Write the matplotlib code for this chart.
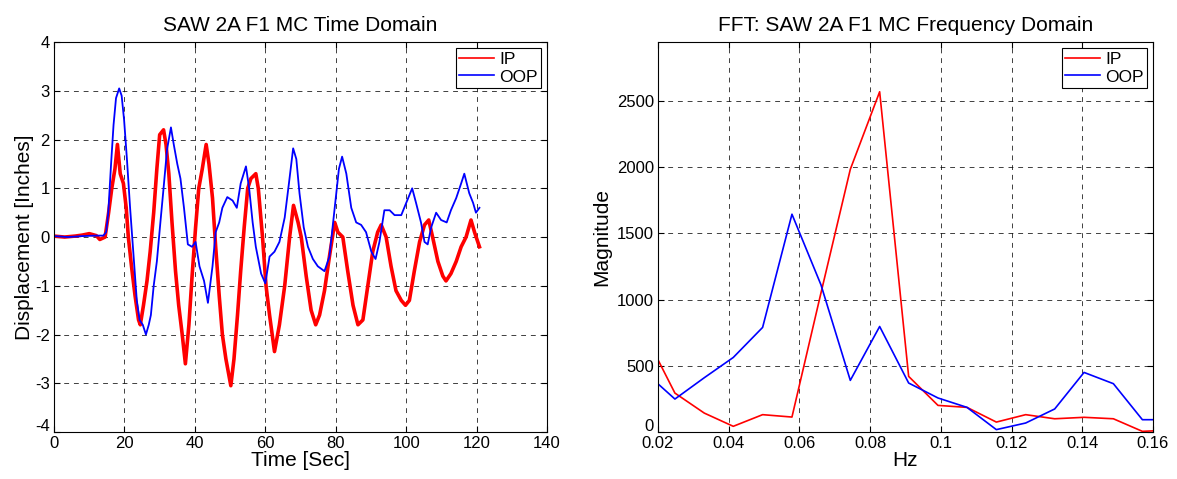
import numpy as np
import matplotlib
matplotlib.use('Agg')
import matplotlib.pyplot as plt
import matplotlib.transforms as mtransforms
from matplotlib.ticker import FormatStrFormatter

plt.rcParams['font.family'] = ['Liberation Sans', 'DejaVu Sans']
plt.rcParams['axes.unicode_minus'] = False

# time domain
t_ip = [0, 3, 6, 8, 10, 12, 13, 14.5, 15.5, 16.4, 17.3, 18, 18.8, 19.7, 20.5, 21.1, 22, 23,
        24, 24.5, 25.4, 26.4, 27.3, 28.3, 29.2, 30, 31.1, 31.8, 32.6, 33.5, 34.5, 35.4, 36.4,
        37.3, 38.3, 39.2, 40.2, 41.1, 42.1, 43.2, 44, 45, 45.9, 46.9, 47.8, 48.8, 50.2, 51.1,
        52.1, 53, 54, 55, 55.9, 57.3, 58, 59.2, 60.2, 61.2, 62.6, 64, 65.5, 66.9, 68, 69.3,
        70.2, 71.6, 73, 74.3, 75.4, 76.8, 78.2, 79.7, 80.6, 82, 83.4, 84.9, 86.3, 87.7, 89.1,
        90.5, 91.9, 92.9, 94.3, 95.7, 97.1, 98.6, 99.8, 100.9, 102.3, 103.8, 105.2, 106.4,
        107.5, 109, 110.4, 111.3, 112.7, 114.2, 115.6, 117, 118.4, 119.4, 120.8]
ip = [0.02, 0.0, 0.02, 0.04, 0.07, 0.03, -0.05, 0.0, 0.5, 1.0, 1.4, 1.9, 1.3, 1.1, 0.6, 0.0,
      -0.6, -1.2, -1.7, -1.8, -1.4, -0.9, -0.3, 0.5, 1.4, 2.1, 2.2, 1.9, 1.3, 0.3, -0.7, -1.4,
      -2.0, -2.6, -1.8, -0.8, 0.2, 1.0, 1.4, 1.9, 1.5, 0.8, -0.2, -1.2, -2.0, -2.5, -3.05, -2.5,
      -1.6, -0.7, 0.2, 1.0, 1.2, 1.3, 1.0, 0.0, -1.0, -1.6, -2.35, -1.8, -1.0, 0.0, 0.65, 0.3,
      0.0, -0.8, -1.5, -1.8, -1.6, -1.1, -0.4, 0.3, 0.1, 0.0, -0.7, -1.4, -1.8, -1.7, -1.0,
      -0.3, 0.1, 0.25, 0.0, -0.6, -1.1, -1.3, -1.4, -1.3, -0.7, -0.1, 0.25, 0.35, 0.0, -0.5,
      -0.8, -0.9, -0.75, -0.5, -0.2, 0.0, 0.35, 0.1, -0.2]

t_oop = [0, 4, 8, 12, 14, 14.8, 15.4, 16.2, 16.9, 17.6, 18.5, 19.2, 19.9, 20.7, 21.6, 22.6,
         23.5, 24.3, 25.2, 26.1, 26.9, 27.5, 28.3, 29.2, 30.2, 31.1, 32.1, 33.2, 34, 35, 35.9,
         36.9, 38, 39.2, 40.2, 41.3, 42.6, 43.7, 45, 45.9, 46.9, 47.8, 49.2, 50.7, 51.9, 53,
         54.5, 55.4, 56.4, 57.3, 58.8, 60, 61.2, 62.6, 64, 65.5, 66.7, 67.9, 68.8, 69.7, 70.9,
         72.1, 73.5, 74.9, 76.8, 78.2, 79.7, 80.9, 81.8, 83, 84.4, 85.8, 87.2, 88.6, 90.1,
         91.3, 92.4, 93.8, 95.3, 96.7, 98.6, 100, 101.7, 102.8, 104.2, 105.2, 106.1, 107.1,
         108.5, 109.9, 111.5, 112.7, 114.2, 115.6, 116.5, 117.9, 119, 119.8, 120.8]
oop = [0.02, 0.0, 0.02, 0.03, 0.03, 0.1, 0.5, 1.5, 2.3, 2.85, 3.05, 2.9, 2.4, 1.6, 0.6, -0.4,
       -1.3, -1.7, -1.8, -2.0, -1.8, -1.6, -1.0, -0.5, 0.3, 1.0, 1.8, 2.25, 1.9, 1.5, 1.2, 0.6,
       -0.15, -0.2, -0.1, -0.6, -0.9, -1.35, -0.6, 0.1, 0.3, 0.6, 0.82, 0.75, 0.6, 1.1, 1.45,
       1.0, 0.3, -0.2, -0.75, -0.95, -0.4, -0.3, -0.1, 0.4, 1.1, 1.82, 1.6, 0.9, 0.2, -0.2,
       -0.45, -0.6, -0.7, -0.4, 0.6, 1.4, 1.65, 1.3, 0.6, 0.3, 0.25, 0.1, -0.3, -0.45, -0.1,
       0.55, 0.55, 0.45, 0.45, 0.7, 1.0, 0.7, 0.3, -0.1, -0.15, 0.2, 0.5, 0.35, 0.3, 0.55, 0.8,
       1.1, 1.3, 0.9, 0.7, 0.5, 0.6]

# frequency domain
freq = [0.0165, 0.0248, 0.0331, 0.0413, 0.0496, 0.0579, 0.0661, 0.0744, 0.0827, 0.0909,
        0.0992, 0.1074, 0.1157, 0.124, 0.1322, 0.1405, 0.1488, 0.157, 0.1653]
mag_ip = [730, 294, 143, 43, 131, 113, 1050, 1984, 2570, 420, 201, 186, 75, 131, 100, 111,
          100, 5, 15]
mag_oop = [448, 249, 410, 563, 790, 1645, 1112, 390, 797, 370, 257, 186, 18, 68, 174, 450,
           365, 93, 93]

fig = plt.figure(figsize=(11.77, 4.79), dpi=100)
ax1 = fig.add_axes([0.0459, 0.0981, 0.4189, 0.814])
ax2 = fig.add_axes([0.559, 0.0981, 0.4206, 0.814])

grid_kw = dict(color='black', linestyle=(0, (5, 5)), linewidth=0.7, alpha=0.75)

ax1.plot(t_ip, ip, color='red', linewidth=2.6, label='IP')
ax1.plot(t_oop, oop, color='blue', linewidth=1.3, label='OOP')
ax1.set_xlim(0, 140)
ax1.set_ylim(-4, 4)
ax1.set_xticks(np.arange(0, 141, 20))
ax1.set_yticks(np.arange(-4, 5, 1))
ax1.set_title('SAW 2A F1 MC Time Domain', fontsize=15, pad=8)
ax1.set_xlabel('Time [Sec]', fontsize=15, labelpad=0)
ax1.set_ylabel('Displacement [Inches]', fontsize=15, labelpad=1)

ax2.plot(freq, mag_ip, color='red', linewidth=1.2, label='IP')
ax2.plot(freq, mag_oop, color='blue', linewidth=1.2, label='OOP')
ax2.set_xlim(0.02, 0.16)
ax2.set_ylim(0, 2945)
ax2.set_xticks(np.arange(0.02, 0.161, 0.02))
ax2.xaxis.set_major_formatter(FormatStrFormatter('%g'))
ax2.set_yticks(np.arange(0, 2501, 500))
ax2.set_title('FFT: SAW 2A F1 MC Frequency Domain', fontsize=15, pad=8)
ax2.set_xlabel('Hz', fontsize=15, labelpad=0)
ax2.set_ylabel('Magnitude', fontsize=15, labelpad=4)

for ax in (ax1, ax2):
    ax.grid(True, **grid_kw)
    ax.tick_params(direction='in', labelsize=12, top=True, right=True, length=4, pad=3)
    for s in ax.spines.values():
        s.set_linewidth(0.8)
    leg = ax.legend(loc='upper right', fontsize=12.5, fancybox=False, edgecolor='black',
                    framealpha=1, borderaxespad=0.35, handlelength=2.0, handletextpad=0.3,
                    borderpad=0.2, labelspacing=0.15)
    leg.get_frame().set_linewidth(0.8)
    for line in leg.get_lines():
        line.set_linewidth(1.2)

# lift the bottom "0" / "-4" labels a little so they clear the x tick labels
for ax in (ax1, ax2):
    lab = ax.get_yticklabels()[0]
    lab.set_transform(lab.get_transform() +
                      mtransforms.ScaledTranslation(0, 5 / 72, fig.dpi_scale_trans))

fig.savefig('out.png', dpi=100)
